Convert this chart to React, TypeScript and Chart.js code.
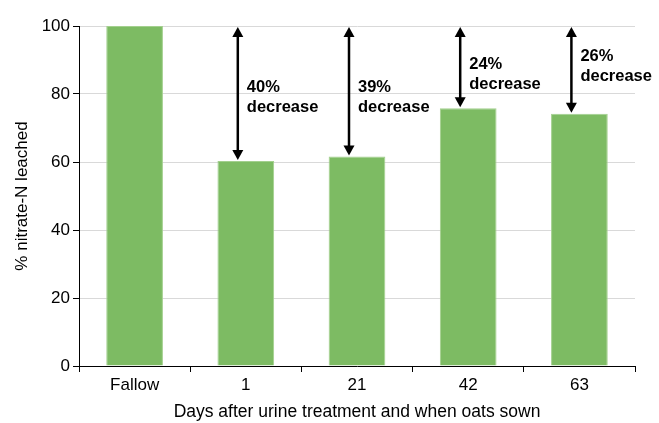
import React, { useEffect, useRef } from "react";
import { Chart, registerables } from "chart.js";

Chart.register(...registerables);

const categories = ["Fallow", "1", "21", "42", "63"];
const nitrateLeached = [100, 60.3, 61.6, 75.8, 74.2];
const decreaseLabels = ["", "40%", "39%", "24%", "26%"];
const labelAnchorValue = [0, 82, 82, 88.7, 91];
const yTicks = [0, 20, 40, 60, 80, 100];

const FONT = "'Liberation Sans', Arial, sans-serif";

const arrowPlugin = {
  id: "decreaseArrows",
  afterDatasetsDraw(chart: any) {
    const ctx = chart.ctx;
    const xs = chart.scales.x;
    const ys = chart.scales.y;
    ctx.save();
    for (let i = 1; i < categories.length; i++) {
      const x = xs.getPixelForValue(i) - 8;
      const yTop = ys.getPixelForValue(nitrateLeached[0]) + 1;
      const yBot = ys.getPixelForValue(nitrateLeached[i]) - 1;
      const head = 10;
      const hw = 5.5;
      ctx.strokeStyle = "#000";
      ctx.fillStyle = "#000";
      ctx.lineWidth = 2.5;
      ctx.beginPath();
      ctx.moveTo(x, yTop + head - 1);
      ctx.lineTo(x, yBot - head + 1);
      ctx.stroke();
      ctx.beginPath();
      ctx.moveTo(x, yTop);
      ctx.lineTo(x - hw, yTop + head);
      ctx.lineTo(x + hw, yTop + head);
      ctx.closePath();
      ctx.fill();
      ctx.beginPath();
      ctx.moveTo(x, yBot);
      ctx.lineTo(x - hw, yBot - head);
      ctx.lineTo(x + hw, yBot - head);
      ctx.closePath();
      ctx.fill();
      const ty = ys.getPixelForValue(labelAnchorValue[i]);
      ctx.font = `bold 16.5px ${FONT}`;
      ctx.textAlign = "left";
      ctx.textBaseline = "middle";
      ctx.fillText(decreaseLabels[i], x + 9, ty);
      ctx.fillText("decrease", x + 9, ty + 20);
    }
    ctx.restore();
  },
};

export default function App() {
  const ref = useRef<HTMLCanvasElement>(null);
  useEffect(() => {
    document.body.style.margin = "0";
    const chart = new Chart(ref.current!, {
      type: "bar",
      data: {
        labels: categories,
        datasets: [
          {
            data: nitrateLeached,
            backgroundColor: "#7DBB63",
            borderColor: "#A3D08E",
            borderWidth: 1,
            barPercentage: 0.51,
            categoryPercentage: 1,
          },
        ],
      },
      options: {
        animation: false,
        responsive: false,
        maintainAspectRatio: false,
        layout: { padding: { top: 26, right: 24, left: 12, bottom: 0 } },
        plugins: { legend: { display: false }, tooltip: { enabled: false } },
        scales: {
          x: {
            offset: true,
            grid: {
              offset: true,
              drawOnChartArea: false,
              tickLength: 6,
              tickColor: "#000",
            },
            border: { color: "#000", width: 1 },
            ticks: { color: "#000", font: { family: FONT, size: 17 }, padding: 3 },
            title: {
              display: true,
              text: "Days after urine treatment and when oats sown",
              color: "#000",
              font: { family: FONT, size: 17.5 },
              padding: { top: 5, bottom: 0 },
            },
            afterFit(scale: any) {
              scale.height = 57;
            },
          },
          y: {
            min: 0,
            max: 100,
            afterBuildTicks(scale: any) {
              scale.ticks = yTicks.map((v) => ({ value: v }));
            },
            grid: {
              color: "#D9D9D9",
              tickColor: "#000",
              tickLength: 6,
              lineWidth: 1,
            },
            border: { color: "#000", width: 1 },
            ticks: { color: "#000", font: { family: FONT, size: 17 }, padding: 3 },
            title: {
              display: true,
              text: "% nitrate-N leached",
              color: "#000",
              font: { family: FONT, size: 17 },
              padding: { top: 0, bottom: 4 },
            },
            afterFit(scale: any) {
              scale.width = 67;
            },
          },
        },
      },
      plugins: [arrowPlugin],
    });
    return () => chart.destroy();
  }, []);
  return (
    <div style={{ position: "fixed", left: 0, top: 0, width: 659, height: 423, background: "#fff" }}>
      <canvas ref={ref} width={659} height={423} />
    </div>
  );
}
